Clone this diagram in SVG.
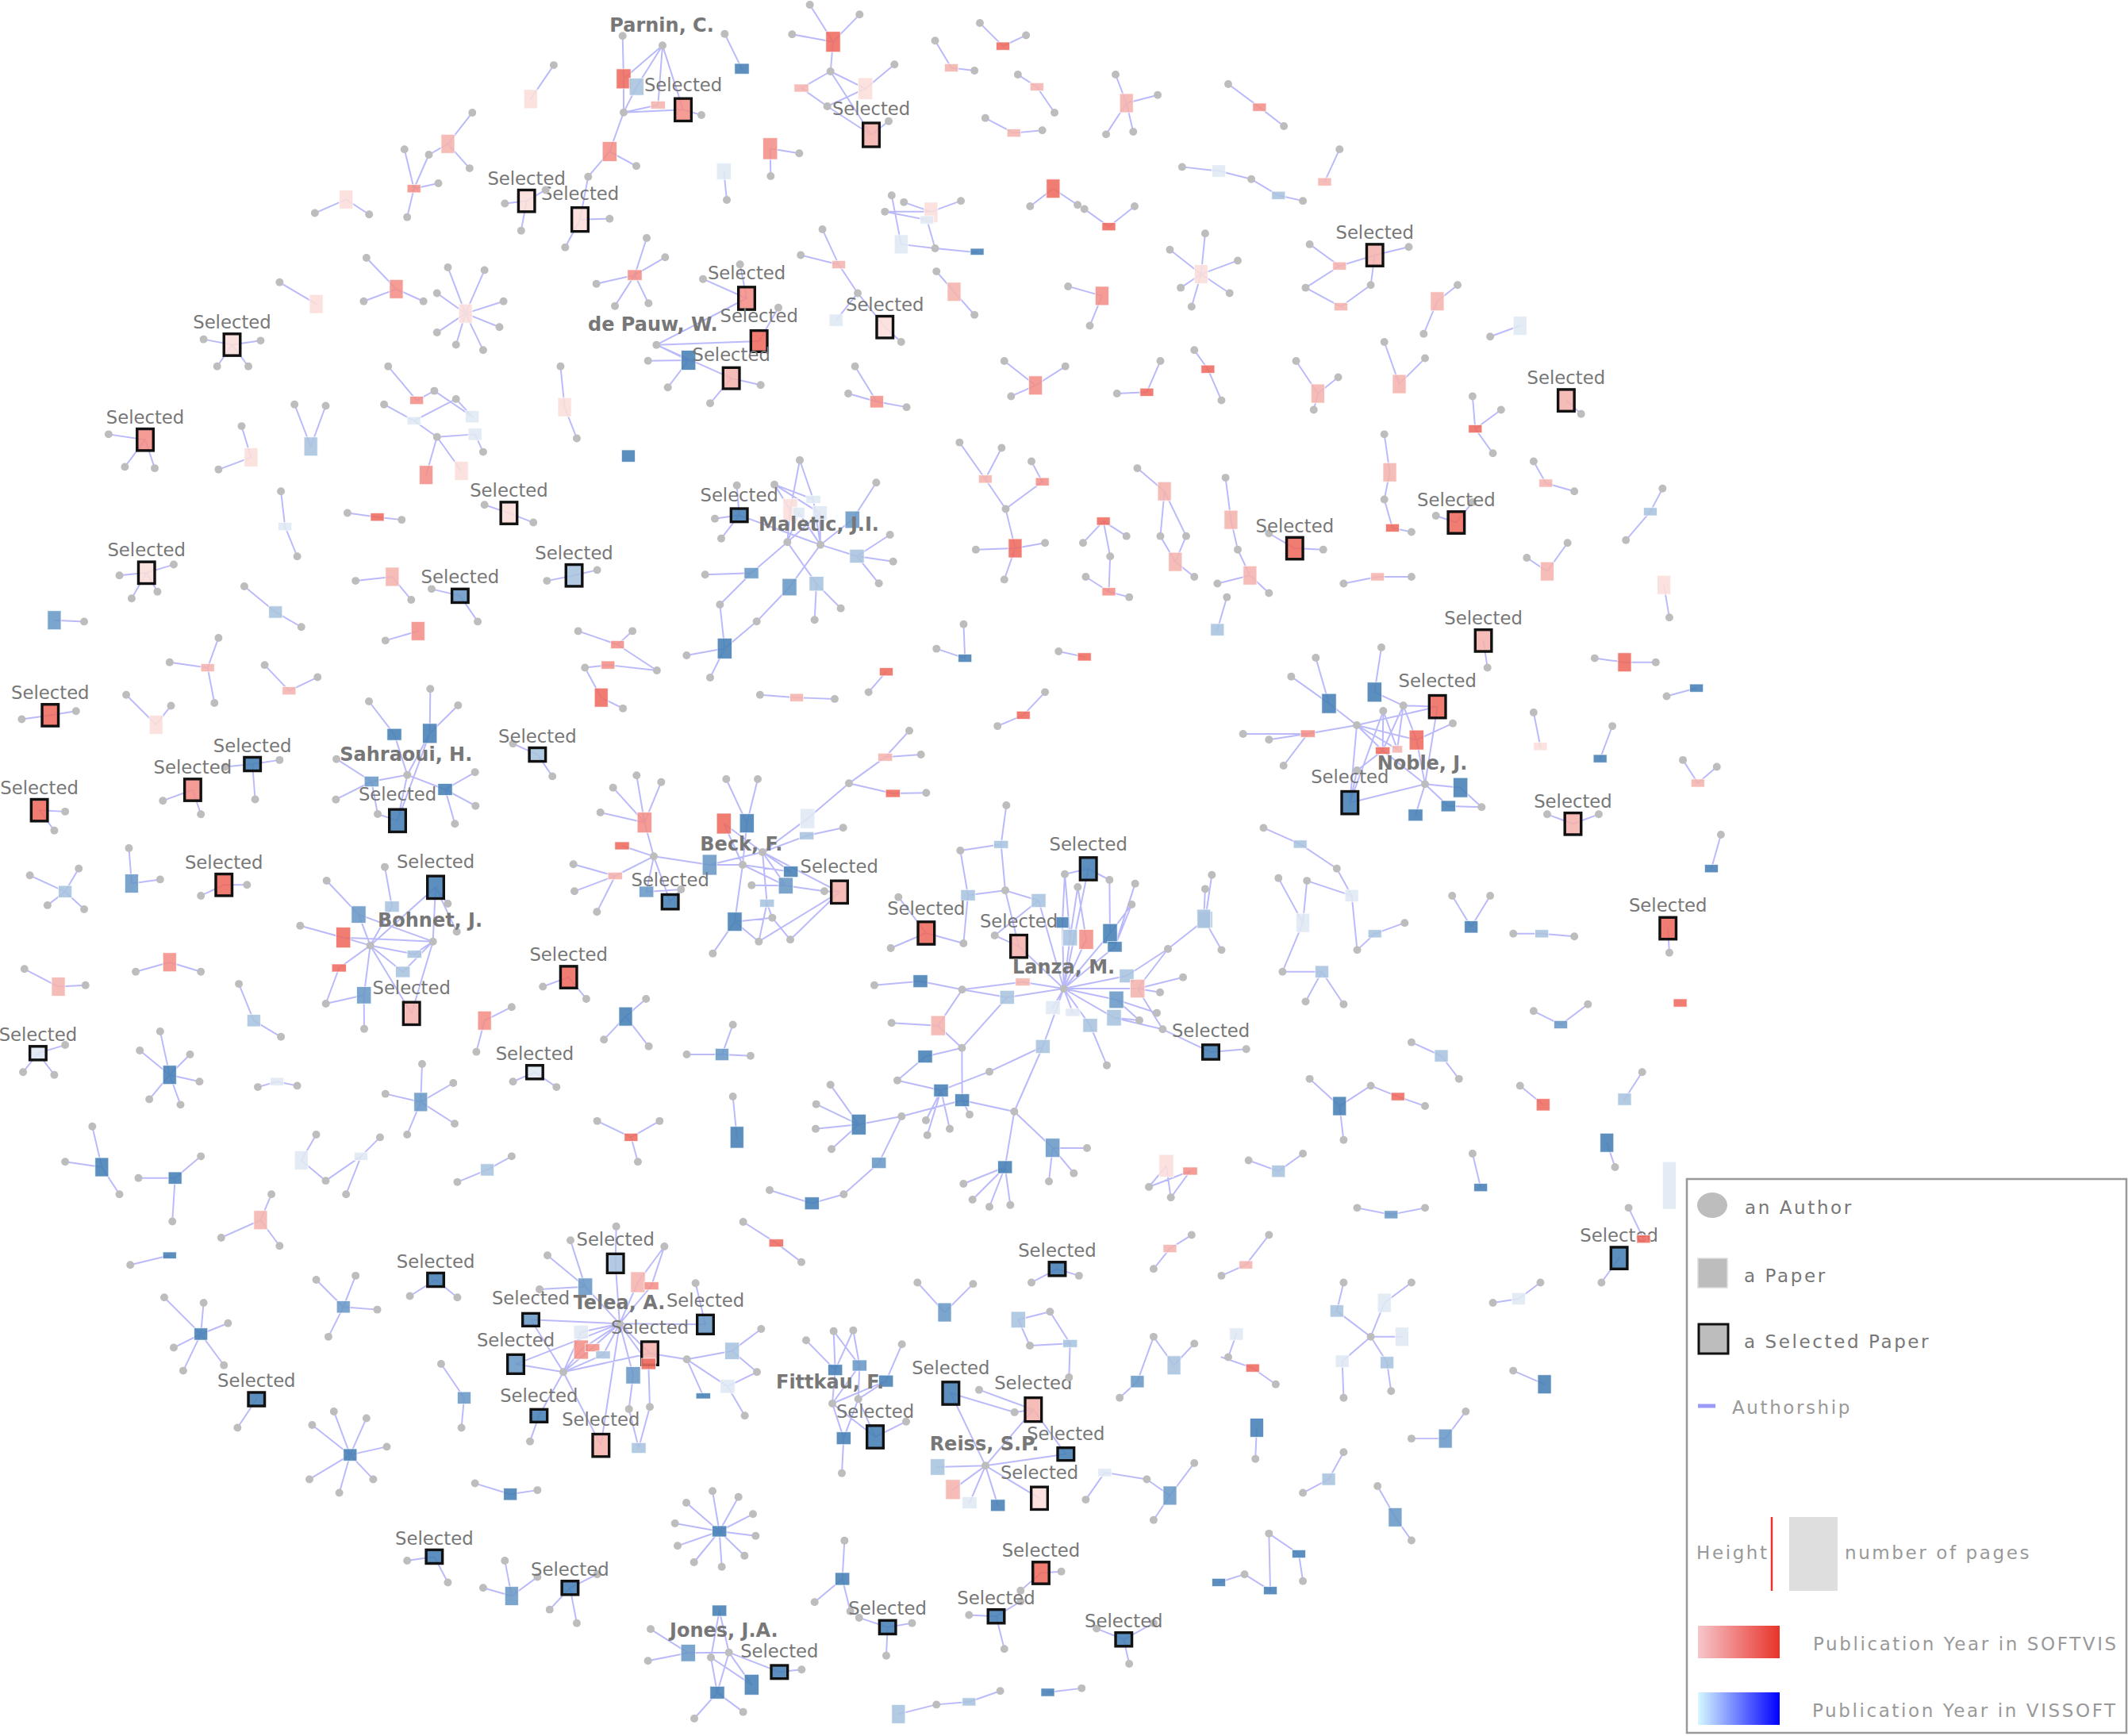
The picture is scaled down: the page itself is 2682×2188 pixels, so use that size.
<svg xmlns="http://www.w3.org/2000/svg" width="2682" height="2188" viewBox="0 0 2682 2188">
<style>
text{font-family:"DejaVu Sans",Verdana,sans-serif;fill:#777}
.e{fill:none;stroke:#7b7bf7;stroke-opacity:.52;stroke-linecap:round}
.a{fill:#bdbdbd}
.p{stroke:#fff;stroke-opacity:.7;fill-opacity:.88}
.r1{fill:#ee6a5e}.r2{fill:#f28e86}.r3{fill:#f5b3ad}.r4{fill:#fbdedb}
.b1{fill:#4680b5}.b2{fill:#6a99c7}.b3{fill:#a9c3df}.b4{fill:#dfe8f4}
.t{text-anchor:middle}
.Z .e{stroke-width:6}.Z .p{stroke-width:3}.Z .s{stroke:#111;stroke-opacity:1;stroke-width:10}.Z .t{font-size:68px}.Z .n{font-size:72px;font-weight:bold}.Z circle{r:15px}
.S .e{stroke-width:1.15}.S .p{stroke-width:.6}.S .s{stroke:#111;stroke-opacity:1;stroke-width:2}.S .t{font-size:13.3px}.S circle{r:2.9px}
.lg{font-size:23px;letter-spacing:2.6px}
</style>
<defs>
<linearGradient id="gr" x1="0" x2="1" y1="0" y2="0"><stop offset="0" stop-color="#f6c6cb"/><stop offset="1" stop-color="#e8342a"/></linearGradient>
<linearGradient id="gb" x1="0" x2="1" y1="0" y2="0"><stop offset="0" stop-color="#d6f8ff"/><stop offset="1" stop-color="#0000ff"/></linearGradient>
</defs>
<rect width="2682" height="2188" fill="#fff"/>
<g id="connectors">
<g class="Z" transform="translate(700 0) scale(.33333)">
<path class="e" d="M254 136L258 298M405 172L258 298M258 298L258 425M405 172L307 328M405 172L388 397M405 172L483 415M258 425L307 328M258 425L388 397M258 425L483 415M552 435L483 415M258 425L205 573M205 573L306 628M205 573L124 668M124 668L93 830M93 830L37 935M93 830L205 827"/>
<path class="e" d="M962 18L1050 158M1150 55L1050 158M895 130L1050 158M1050 158L1040 270M1040 270L930 333M930 333L1028 402M1040 270L1172 335M1172 335L1282 244M1028 402L1172 335M1040 270L1194 510M1028 402L1194 510M1194 510L1260 458"/>
<path class="e" d="M640 128L705 260M922 580L812 562M814 666L812 562M648 756L637 648M345 900L300 1040M415 973L300 1040M155 1073L300 1040M225 1157L300 1040M352 1147L300 1040"/>
</g>
<g class="Z" transform="translate(780 300) scale(.33333)">
<path class="e" d="M142 404L483 228M142 404L530 390M142 404L263 462M110 464L263 462M185 565L263 462M142 404L425 530M345 625L425 530M536 556L425 530M318 155L483 228M458 100L483 228M603 263L530 390"/>
</g>
<g class="Z" transform="translate(850 570) scale(.33333)">
<path class="e" d="M236 125L245 238M153 251L245 238M177 326L245 238M245 238L552 350M378 122L438 218M378 122L525 178M474 30L438 218M474 30L525 178M427 340L438 218M427 340L470 228M427 340L550 230M552 350L525 178M552 350L550 230M552 350L470 228M378 122L550 230M552 350L673 255M763 115L673 255M552 350L690 393M815 312L690 393M827 413L690 393M773 496L690 393M427 340L291 457M116 463L291 457M172 576L291 457M172 576L190 742M46 768L190 742M135 852L190 742M311 640L190 742M311 640L435 510M552 350L435 510M427 340L537 497M530 634L537 497M629 590L537 497"/>
</g>
<g class="Z" transform="translate(1560 790) scale(.33333)">
<path class="e" d="M295 117L345 290M202 188L345 290M345 290L450 372M543 78L517 247M517 247L626 298M450 372L265 404M265 404L20 405M265 404L118 427M265 404L173 525M450 372L755 302M450 372L676 428M450 372L548 468M450 372L603 463M450 372L424 665M626 298L755 302M626 298L548 468M626 298L603 463M626 298L676 428M550 318L548 468M550 318L603 463M550 318L424 665M813 365L676 428M708 595L755 302M708 595L676 428M708 595L424 665M708 595L548 468M708 595L842 608M708 595L796 678M708 595L672 712M922 682L842 608M922 682L796 678M451 543L424 665M451 543L548 468"/>
</g>
<g class="Z" transform="translate(720 920) scale(.33333)">
<path class="e" d="M247 172L277 350M340 197L277 350M158 218L277 350M110 312L277 350M277 350L312 478M312 478L192 438M312 478L166 552M166 552L8 508M166 552L12 610M166 552L97 688M312 478L284 612M312 478L374 650M374 650L415 603M284 612L415 603M312 478L523 510M586 186L664 353M705 186L664 353M664 353L648 510M577 354L723 462M577 354L648 510M648 510L523 510M723 462L523 510M723 462L893 335M893 335L1050 202M1050 202L1187 103M1187 103L1278 3M1187 103L1322 93M1050 202L1216 240M1216 240L1342 238M723 462L890 400M890 400L1028 370M723 462L830 536M648 510L830 536M723 462L811 589M648 510L811 589M811 589L957 610M682 587L811 589M723 462L740 655M740 655L709 800M723 462L1014 613M957 610L1014 613M709 800L1014 613M828 793L1014 613M648 510L618 725M618 725L760 710M618 725L535 845M760 710L740 655M828 793L760 710M618 725L709 800"/>
</g>
<g class="Z" transform="translate(370 860) scale(.33333)">
<path class="e" d="M285 72L381 197M381 197L430 350M517 25L515 193M622 87L515 193M515 193L430 350M515 193L393 523M162 290L295 375M430 350L295 375M295 375L160 443M295 375L318 498M430 350L573 405M686 340L573 405M688 467L573 405M610 535L573 405M430 350L393 523M318 498L393 523"/>
<path class="e" d="M345 698L372 848M372 848L290 995M125 750L246 878M246 878L290 995M246 878L527 980M25 920L188 965M188 965L290 995M188 965L527 980M290 995L537 775M527 980L537 775M537 775L583 837M537 775L617 943M290 995L457 1028M527 980L457 1028M290 995L172 1080M172 1080L122 1215M290 995L413 1095M527 980L413 1095M290 995L266 1183M266 1183L122 1215M266 1183L267 1310M290 995L446 1252M527 980L446 1252"/>
</g>
<g class="Z" transform="translate(990 1640) scale(.33333)">
<path class="e" d="M78 148L188 260M182 113L188 260M256 110L188 260M182 113L280 243M256 110L280 243M188 260L177 387M280 243L275 370M280 243L177 387M440 163L380 302M380 302L177 387M275 370L380 302M177 387L220 518M275 370L220 518M220 518L213 650M177 387L339 513M275 370L339 513M339 513L456 455"/>
<path class="e" d="M625 348L866 420M625 348L756 622M732 335L937 410M866 420L937 410M937 410L756 622M756 622L1060 578M1060 578L937 410M756 622L960 745M756 622L575 627M756 622L633 712M756 622L696 762M756 622L803 772"/>
<path class="e" d="M880 70L1000 40M880 70L924 168M924 168L1076 160M1000 40L1076 160M1076 160L1072 288"/>
</g>
<g class="Z" transform="translate(820 1860) scale(.33333)">
<path class="e" d="M234 58L260 210M332 80L260 210M135 102L260 210M387 145L260 210M92 180L260 210M397 227L260 210M102 265L260 210M355 302L260 210M164 327L260 210M269 344L260 210"/>
<path class="e" d="M0 580L142 670M-10 700L142 670M142 670L296 668M260 510L296 668M260 510L228 687M228 687L252 820M296 668L252 820M228 687L382 790M296 668L382 790M296 668L487 742M487 742L571 733M252 820L165 918M252 820L350 893M733 245L725 390M620 478L725 390M755 512L725 390"/>
</g>
<g class="Z" transform="translate(600 1500) scale(.33333)">
<path class="e" d="M530 137L527 277M527 277L543 505M357 190L413 365M270 247L413 365M240 375L413 365M413 365L543 505M712 213L663 362M712 213L612 348M612 348L543 505M663 362L543 505M207 490L543 505M207 490L330 688M543 505L867 508M830 352L867 508M543 505L397 537M543 505L397 603M543 505L440 596M543 505L480 623M543 505L657 617M543 505L150 658M330 688L150 658M330 688L397 537M330 688L397 603M330 688L480 623M330 688L657 617M330 688L238 853M238 853L204 950M330 688L472 965M543 505L472 965M543 505L594 700M594 700L578 828M578 828L615 975M657 820L615 975M657 820L652 657M543 505L652 657M657 617L797 640M797 640L968 608M968 608L1078 525M968 608L1062 688M797 640L951 742M951 742L1062 688M951 742L1016 853M797 640L859 778M330 688L440 596M1010 120L1135 200M1230 272L1135 200"/>
</g>
<g class="Z" transform="translate(1150 1000) scale(.33333)">
<path class="e" d="M355 45L335 193M335 193L181 216M335 193L351 367M181 216L210 385M210 385L351 367M210 385L193 567M351 367L477 405M477 405L311 537M477 405L572 738M351 367L402 578M311 537L402 578M52 528L193 567M52 528L-53 392M52 528L-82 585M572 738L402 578M576 305L665 285M745 327L665 285M572 738L665 285M576 305L567 488M625 354L596 545M576 305L596 545M625 354L657 552M572 738L567 488M572 738L596 545M572 738L657 552M745 327L747 530M572 738L747 530M829 420L747 530M842 341L765 580M829 420L765 580M572 738L765 580M572 738L417 713M417 713L188 742M188 742L30 710M30 710L-144 725M572 738L358 771M358 771L188 742M358 771L187 962M188 742L97 878M97 878L-79 868M97 878L187 962M187 962L48 995M48 995L-57 1085M572 738L531 810M572 738L606 828M572 738L672 877M672 877L735 1028M572 738L810 690M810 690L966 588M966 588L1107 477M1107 477L1132 308M572 738L851 738M851 738L1023 695M851 738L936 752M851 738L966 588M851 738L946 892M572 738L771 780M771 780L924 830M771 780L858 858M572 738L762 848M762 848L858 858M762 848L946 892M946 892L1128 978M1128 978L1262 967M572 738L493 957M493 957L291 1052M291 1052L108 1123M-57 1085L108 1123M108 1123L51 1236M108 1123L56 1292M108 1123L141 1268M187 962L188 1160M188 1160L-41 1221M188 1160L216 1214M188 1160L385 1203M385 1203L493 957M385 1203L350 1413M385 1203L530 1340M530 1340L660 1341M530 1340L610 1436M530 1340L516 1467M350 1413L193 1476M350 1413L227 1536M350 1413L291 1563M350 1413L370 1556M-41 1221L-203 1252M-203 1252L-310 1102M-203 1252L-364 1175M-203 1252L-366 1268M-203 1252L-306 1345M-41 1221L-127 1397M-127 1397L-260 1516M-260 1516L-380 1550M-540 1500L-380 1550M960 1408L894 1488M960 1408L977 1528M1050 1428L894 1488M1050 1428L977 1528"/>
</g>
<g class="S" transform="scale(1.7105)">
<path class="e" d="M408 48L391 73M348 83L330 106M346 124L330 106M316 114L330 106M316 114L305 139M298 110L305 139M300 160L305 139M323 135L305 139M232 157L255 147M272 158L255 147M206 208L233 224M270 190L292 213M268 222L292 213M312 222L292 213M322 216L343 231M330 197L343 231M357 199L343 231M371 222L343 231M368 241L343 231M356 258L343 231M336 254L343 231M322 245L343 231M689 30L701 50M718 52L701 50M722 17L739 34M756 26L739 34M750 55L764 64M777 83L764 64M726 87L747 98M768 96L747 98M822 55L830 76M853 70L830 76M815 99L830 76M835 97L830 76M905 62L928 79M946 93L928 79M987 110L976 134M871 123L898 126M922 132L898 126M922 132L942 144M960 148L942 144M759 152L776 139M794 151L776 139M799 154L817 167M836 152L817 167M862 184L885 202M870 212L885 202M888 172L885 202M912 192L885 202M906 216L885 202M878 226L885 202M787 211L812 218M803 240L812 218M384 170L388 148M402 140L388 148M372 150L388 148"/>
<path class="e" d="M657 144L664 180M666 149L686 156M652 156L686 156M652 156L683 162M686 156L708 148M683 162L689 183M664 180L689 183M689 183L720 186M606 169L618 195M590 188L618 195M618 195L632 216M632 216L652 241M664 252L652 241M690 200L703 215M718 232L703 215M632 216L616 236M625 290L646 296M630 270L646 296M668 300L646 296"/>
<path class="e" d="M150 250L171 254M160 270L171 254M183 270L171 254M192 251L171 254M80 320L107 324M92 344L107 324M114 345L107 324M161 346L185 337M178 314L185 337M217 298L229 329M240 299L229 329M286 270L307 295M307 295L320 288M283 298L305 310M305 310L322 322M320 288L348 307M336 294L348 307M322 322L350 320M322 322L314 350M322 322L340 347M356 333L350 320M336 294L305 310M413 270L416 300M425 323L416 300M357 372L375 378M393 385L375 378M256 378L278 381M296 383L278 381M207 362L210 388M219 410L210 388M88 424L108 422M97 441L108 422M128 416L108 422M116 436L108 422M403 428L423 424M440 420L423 424M262 428L289 425M303 442L289 425M318 434L339 439M352 458L339 439M180 432L203 451M222 462L203 451M284 472L308 465M62 458L40 457M125 488L153 492M161 470L153 492M158 518L153 492M195 490L213 509M234 499L213 509M426 465L455 475M466 465L455 475M455 475L484 494M431 492L448 490M448 490L484 494M431 492L443 514M459 522L443 514"/>
<path class="e" d="M16 530L37 527M56 524L37 527M93 512L115 534M126 520L115 534M166 565L186 563M188 589L186 563M206 560L186 563M120 590L142 582M148 600L142 582M48 598L29 597M40 612L29 597M378 548L396 556M407 572L396 556M22 645L48 657M35 667L48 657M58 640L48 657M62 670L48 657M95 625L97 651M118 648L97 651M148 660L165 652M182 652L165 652M18 714L43 727M63 726L43 727M100 716L125 709M148 716L125 709M176 725L187 752M207 764L187 752M17 790L28 776M40 792L28 776M48 770L28 776M103 774L125 792M118 760L125 792M140 777L125 792M147 797L125 792M133 814L125 792M110 810L125 792M190 801L204 797M219 800L204 797M284 806L310 812M311 784L310 812M334 798L310 812M335 828L310 812M300 836L310 812M378 797L394 790M410 801L394 790M377 742L357 752M351 775L357 752M400 727L419 720M432 736L419 720M445 766L461 749M476 736L461 749M478 771L461 749M506 777L532 777M540 755L532 777M553 778L532 777M540 808L543 838M440 826L465 838M486 826L465 838M470 856L465 838"/>
<path class="e" d="M48 856L75 860M68 830L75 860M88 880L75 860M102 868L129 868M148 852L129 868M127 900L129 868M233 836L222 855M240 870L222 855M240 870L266 852M255 880L266 852M280 838L266 852M163 912L192 899M200 880L192 899M206 918L192 899M96 932L125 925M337 871L359 862M377 852L359 862M302 955L321 943M337 956L321 943M233 943L253 963M262 940L253 963M278 965L253 963M242 985L253 963M121 956L148 983M150 960L148 983M168 975L148 983M165 1006L148 983M135 1010L148 983M128 993L148 983M175 1052L189 1031M325 1005L342 1030M340 1052L342 1030M230 1050L258 1072M246 1040L258 1072M270 1045L258 1072M285 1066L258 1072M275 1090L258 1072M250 1100L258 1072M228 1090L258 1072M350 1093L376 1101M396 1098L376 1101M356 1170L377 1176M372 1150L377 1176M396 1162L377 1176M300 1150L320 1147M330 1166L320 1147M405 1186L420 1170M440 1160L420 1170M425 1196L420 1170"/>
<path class="e" d="M1098 248L1120 240M1165 305L1154 295M1085 292L1087 316M1106 302L1087 316M1100 334L1087 316M1020 252L1031 283M1050 264L1031 283M955 266L971 290M986 278L971 290M968 302L971 290M1074 210L1059 222M1049 246L1059 222M1038 182L1013 188M1013 188L987 196M965 180L987 196M987 196L962 212M962 212L988 226M1010 210L988 226M1010 210L1013 188M880 258L890 272M900 295L890 272M823 290L845 289M855 266L845 289M740 266L763 284M785 270L763 284M745 292L763 284M707 326L726 353M738 330L726 353M726 353L741 375M760 340L768 355M768 355L741 375M741 375L748 404M719 405L748 404M740 427L748 404M770 400L748 404M798 400L813 384M830 395L813 384M818 410L813 384M818 410L817 436M800 425L817 436M832 440L817 436M838 345L858 362M858 362L855 395M858 362L874 395M855 395L866 414M880 425L866 414M874 395L866 414M903 352L907 383M907 383L912 405M912 405L921 424M897 430L921 424M935 437L921 424M935 393L954 404M975 405L954 404M1020 320L1024 348M1024 348L1020 368M1020 368L1026 389M1040 392L1026 389M1058 380L1073 385M1085 370L1073 385M1130 340L1139 356M1160 362L1139 356M1198 398L1216 377M1225 360L1216 377M1125 411L1140 421M1155 400L1140 421M990 430L1015 425M1040 425L1015 425M904 440L897 464M1230 455L1226 431M1096 492L1093 472M1175 485L1197 488M1220 488L1197 488M1228 513L1250 507M1130 525L1135 550M1188 535L1179 559M1240 560L1251 577M1265 565L1251 577M1140 600L1159 607M1178 600L1159 607M1268 615L1261 640M1070 660L1084 683M1098 660L1084 683M1115 688L1136 688M1160 690L1136 688M1230 702L1229 684"/>
<path class="e" d="M1040 768L1062 778M1075 795L1062 778M1130 745L1150 755M1170 740L1150 755M1210 790L1197 810M1120 800L1137 814M1190 860L1184 842M1085 850L1091 875M1000 890L1025 895M1050 890L1025 895M965 795L987 815M1010 800L987 815M1010 800L1030 808M1050 815L1030 808M990 840L987 815M920 855L942 863M960 850L942 863M900 940L918 932M935 910L918 932M850 935L862 920M878 910L862 920M760 945L779 935M795 940L779 935M990 945L985 966M985 966L1010 985M1040 945L1020 960M1020 960L1010 985M1010 985L1033 985M1010 985L1022 1004M1022 1004L1025 1025M1010 985L989 1003M989 1003L990 1030M905 1000L911 983M900 1000L923 1008M940 1020L923 1008M1100 960L1119 957M1135 945L1119 957M1180 945L1193 927M1200 890L1211 913M1115 1010L1138 1020M1040 1060L1065 1060M1080 1040L1065 1060M1015 1095L1028 1118M1040 1135L1028 1118M960 1100L979 1090M990 1070L979 1090M925 1075L926 1052M935 1130L957 1145M960 1165L957 1145M917 1160L936 1172M917 1160L898 1166M935 1130L936 1172M825 1030L838 1018M850 985L838 1018M850 985L865 1006M880 990L865 1006M845 1090L862 1102M880 1078L862 1102M850 1120L862 1102M845 1090L814 1085M800 1105L814 1085M808 1200L828 1208M832 1226L828 1208M850 1196L828 1208M752 1172L767 1159M782 1158L767 1159M714 1190L734 1191M740 1215L734 1191M752 1180L734 1191M797 1244L772 1247M633 1192L654 1199M653 1220L654 1199M672 1196L654 1199M690 1256L662 1263M690 1256L714 1254M737 1246L714 1254M676 945L696 967M717 946L696 967M640 510L653 495M690 478L711 485M710 460L711 485M735 535L754 527M770 510L754 527M780 480L799 484M560 512L587 514M615 515L587 514"/>
<path class="e" d="M931 610L958 622M958 622L985 640M942 647L960 680M963 649L996 660M985 640L996 660M996 660L1000 700M1000 700L1013 688M1035 680L1013 688M960 680L945 716M945 716L974 716M974 716L962 738M974 716L990 740M963 649L960 680M888 655L887 677M887 677L900 700"/>
</g>
</g>
<g id="nodes">
<g class="Z" transform="translate(700 0) scale(.33333)">
<g id="parnin">
<rect class="p r1" x="230.5" y="260.5" width="55" height="75"/><rect class="p b3" x="279.5" y="295.5" width="55" height="65"/><rect class="p r3" x="360.5" y="382" width="55" height="30"/><rect class="p r2 s" x="452" y="372.5" width="62" height="85"/><rect class="p r2" x="177.5" y="535.5" width="55" height="75"/><rect class="p r4 s" x="62" y="785" width="62" height="90"/>
<circle class="a" cx="405" cy="172"/><circle class="a" cx="254" cy="136"/><circle class="a" cx="258" cy="425"/><circle class="a" cx="552" cy="435"/><circle class="a" cx="306" cy="628"/><circle class="a" cx="124" cy="668"/><circle class="a" cx="37" cy="935"/><circle class="a" cx="205" cy="827"/>
<text class="n" x="205" y="120">Parnin, C.</text><text class="t" x="483" y="345">Selected</text><text class="t" x="93" y="757">Selected</text>
</g>
<g id="top1">
<rect class="p r1" x="1022.5" y="119" width="55" height="78"/><rect class="p r3" x="902.5" y="318" width="55" height="30"/><rect class="p r4" x="1144.5" y="294" width="55" height="82"/><rect class="p r3 s" x="1163" y="465" width="62" height="90"/>
<circle class="a" cx="962" cy="18"/><circle class="a" cx="1150" cy="55"/><circle class="a" cx="895" cy="130"/><circle class="a" cx="1040" cy="270"/><circle class="a" cx="1282" cy="244"/><circle class="a" cx="1028" cy="402"/><circle class="a" cx="1260" cy="458"/>
<text class="t" x="1194" y="435">Selected</text>
</g>
<g id="top2">
<rect class="p b1" x="677.5" y="240" width="55" height="40"/><circle class="a" cx="640" cy="128"/>
<rect class="p r2" x="784.5" y="521" width="55" height="82"/><circle class="a" cx="922" cy="580"/><circle class="a" cx="814" cy="666"/>
<rect class="p b4" x="609.5" y="617" width="55" height="62"/><circle class="a" cx="648" cy="756"/>
<rect class="p r2" x="272.5" y="1020" width="55" height="40"/><circle class="a" cx="345" cy="900"/><circle class="a" cx="415" cy="973"/><circle class="a" cx="155" cy="1073"/><circle class="a" cx="225" cy="1157"/><circle class="a" cx="352" cy="1147"/>
</g>
</g>
<g class="Z" transform="translate(780 300) scale(.33333)">
<g id="depauw">
<rect class="p b1" x="235.5" y="424.5" width="55" height="75"/><rect class="p r2 s" x="452" y="185.5" width="62" height="85"/><rect class="p r1 s" x="499" y="350" width="62" height="80"/><rect class="p r3 s" x="394" y="490" width="62" height="80"/>
<circle class="a" cx="142" cy="404"/><circle class="a" cx="110" cy="464"/><circle class="a" cx="185" cy="565"/><circle class="a" cx="345" cy="625"/><circle class="a" cx="536" cy="556"/><circle class="a" cx="318" cy="155"/><circle class="a" cx="458" cy="100"/><circle class="a" cx="603" cy="263"/>
<text class="n" x="-117" y="352">de Pauw, W.</text><text class="t" x="483" y="155">Selected</text><text class="t" x="530" y="318">Selected</text><text class="t" x="425" y="465">Selected</text>
</g>
</g>
<g class="Z" transform="translate(850 570) scale(.33333)">
<g id="maletic">
<rect class="p b1 s" x="214" y="213" width="62" height="50"/><rect class="p r4" x="410.5" y="175.5" width="55" height="85"/><rect class="p b4" x="497.5" y="163" width="55" height="30"/><rect class="p b4" x="447.5" y="208" width="45" height="40"/><rect class="p b4" x="522.5" y="202.5" width="55" height="55"/><rect class="p b2" x="645.5" y="222.5" width="55" height="65"/><rect class="p b3" x="662.5" y="367" width="55" height="52"/><rect class="p b2" x="263.5" y="436" width="55" height="42"/><rect class="p b2" x="407.5" y="477.5" width="55" height="65"/><rect class="p b3" x="509.5" y="469.5" width="55" height="55"/><rect class="p b1" x="162.5" y="703" width="55" height="78"/>
<circle class="a" cx="474" cy="30"/><circle class="a" cx="236" cy="125"/><circle class="a" cx="378" cy="122"/><circle class="a" cx="763" cy="115"/><circle class="a" cx="153" cy="251"/><circle class="a" cx="177" cy="326"/><circle class="a" cx="427" cy="340"/><circle class="a" cx="552" cy="350"/><circle class="a" cx="815" cy="312"/><circle class="a" cx="827" cy="413"/><circle class="a" cx="773" cy="496"/><circle class="a" cx="116" cy="463"/><circle class="a" cx="172" cy="576"/><circle class="a" cx="311" cy="640"/><circle class="a" cx="530" cy="634"/><circle class="a" cx="629" cy="590"/><circle class="a" cx="46" cy="768"/><circle class="a" cx="135" cy="852"/>
<text class="n" x="318" y="298">Maletic, J.I.</text><text class="t" x="245" y="185">Selected</text>
</g>
</g>
<g class="Z" transform="translate(1560 790) scale(.33333)">
<g id="noble">
<rect class="p b1" x="317.5" y="252.5" width="55" height="75"/><rect class="p b1" x="489.5" y="209.5" width="55" height="75"/><rect class="p r2" x="237.5" y="390" width="55" height="28"/><rect class="p r1" x="648.5" y="390.5" width="55" height="75"/><rect class="p r1" x="520.5" y="454" width="55" height="28"/><rect class="p r3" x="583" y="449" width="40" height="28"/><rect class="p r1 s" x="724" y="259.5" width="62" height="85"/><rect class="p b1 s" x="393" y="622.5" width="62" height="85"/><rect class="p b1" x="814.5" y="570.5" width="55" height="75"/><rect class="p b1" x="768.5" y="657" width="55" height="42"/><rect class="p b1" x="644.5" y="689.5" width="55" height="45"/>
<circle class="a" cx="295" cy="117"/><circle class="a" cx="543" cy="78"/><circle class="a" cx="202" cy="188"/><circle class="a" cx="626" cy="298"/><circle class="a" cx="550" cy="318"/><circle class="a" cx="450" cy="372"/><circle class="a" cx="813" cy="365"/><circle class="a" cx="20" cy="405"/><circle class="a" cx="118" cy="427"/><circle class="a" cx="173" cy="525"/><circle class="a" cx="451" cy="543"/><circle class="a" cx="708" cy="595"/><circle class="a" cx="922" cy="682"/>
<text class="n" x="527" y="540">Noble, J.</text><text class="t" x="755" y="228">Selected</text><text class="t" x="424" y="590">Selected</text>
</g>
</g>
<g class="Z" transform="translate(720 920) scale(.33333)">
<g id="beck">
<rect class="p r2" x="249.5" y="311" width="55" height="78"/><rect class="p r1" x="164.5" y="423" width="55" height="30"/><rect class="p r3" x="138.5" y="538" width="55" height="28"/><rect class="p b2" x="256.5" y="591" width="55" height="42"/><rect class="p b1 s" x="343" y="622.5" width="62" height="55"/><rect class="p b2" x="495.5" y="471" width="55" height="78"/><rect class="p r1" x="549.5" y="315" width="55" height="78"/><rect class="p b1" x="636.5" y="317" width="55" height="72"/><rect class="p b4" x="865.5" y="297.5" width="55" height="75"/><rect class="p b3" x="862.5" y="385" width="55" height="30"/><rect class="p r3" x="1159.5" y="88" width="55" height="30"/><rect class="p r1" x="1188.5" y="225" width="55" height="30"/><rect class="p b1" x="802.5" y="515" width="55" height="42"/><rect class="p b2" x="783.5" y="558" width="55" height="62"/><rect class="p b3" x="712.5" y="640" width="55" height="30"/><rect class="p b1" x="590.5" y="689" width="55" height="72"/><rect class="p r3 s" x="983" y="570.5" width="62" height="85"/>
<circle class="a" cx="247" cy="172"/><circle class="a" cx="340" cy="197"/><circle class="a" cx="158" cy="218"/><circle class="a" cx="110" cy="312"/><circle class="a" cx="312" cy="478"/><circle class="a" cx="8" cy="508"/><circle class="a" cx="12" cy="610"/><circle class="a" cx="97" cy="688"/><circle class="a" cx="415" cy="603"/><circle class="a" cx="586" cy="186"/><circle class="a" cx="705" cy="186"/><circle class="a" cx="723" cy="462"/><circle class="a" cx="648" cy="510"/><circle class="a" cx="682" cy="587"/><circle class="a" cx="1028" cy="370"/><circle class="a" cx="1050" cy="202"/><circle class="a" cx="1278" cy="3"/><circle class="a" cx="1322" cy="93"/><circle class="a" cx="1342" cy="238"/><circle class="a" cx="957" cy="610"/><circle class="a" cx="760" cy="710"/><circle class="a" cx="709" cy="800"/><circle class="a" cx="828" cy="793"/><circle class="a" cx="535" cy="845"/>
<text class="n" x="487" y="455">Beck, F.</text><text class="t" x="374" y="590">Selected</text><text class="t" x="1013" y="540">Selected</text>
</g>
</g>
<g class="Z" transform="translate(370 860) scale(.33333)">
<g id="sahraoui">
<rect class="p b1" x="353.5" y="174.5" width="55" height="45"/><rect class="p b1" x="487.5" y="155.5" width="55" height="75"/><rect class="p b2" x="267.5" y="355" width="55" height="40"/><rect class="p b1" x="545.5" y="382.5" width="55" height="45"/><rect class="p b1 s" x="362" y="480.5" width="62" height="85"/>
<circle class="a" cx="517" cy="25"/><circle class="a" cx="285" cy="72"/><circle class="a" cx="622" cy="87"/><circle class="a" cx="162" cy="290"/><circle class="a" cx="430" cy="350"/><circle class="a" cx="686" cy="340"/><circle class="a" cx="160" cy="443"/><circle class="a" cx="688" cy="467"/><circle class="a" cx="318" cy="498"/><circle class="a" cx="610" cy="535"/>
<text class="n" x="175" y="297">Sahraoui, H.</text><text class="t" x="393" y="448">Selected</text>
</g>
<g id="bohnet">
<rect class="p b1 s" x="506" y="732.5" width="62" height="85"/><rect class="p b2" x="218.5" y="845.5" width="55" height="65"/><rect class="p b3" x="344.5" y="827" width="55" height="42"/><rect class="p r1" x="160.5" y="926" width="55" height="78"/><rect class="p b3" x="429.5" y="1013" width="55" height="30"/><rect class="p r1" x="144.5" y="1065" width="55" height="30"/><rect class="p b3" x="385.5" y="1074" width="55" height="42"/><rect class="p b2" x="238.5" y="1150.5" width="55" height="65"/><rect class="p r3 s" x="415" y="1209.5" width="62" height="85"/>
<circle class="a" cx="345" cy="698"/><circle class="a" cx="125" cy="750"/><circle class="a" cx="583" cy="837"/><circle class="a" cx="25" cy="920"/><circle class="a" cx="617" cy="943"/><circle class="a" cx="290" cy="995"/><circle class="a" cx="527" cy="980"/><circle class="a" cx="122" cy="1215"/><circle class="a" cx="267" cy="1310"/>
<text class="n" x="318" y="925">Bohnet, J.</text><text class="t" x="537" y="703">Selected</text><text class="t" x="446" y="1180">Selected</text>
</g>
</g>
<g class="Z" transform="translate(990 1640) scale(.33333)">
<g id="fittkau">
<rect class="p b1" x="160.5" y="239" width="55" height="42"/><rect class="p b2" x="252.5" y="222" width="55" height="42"/><rect class="p b1" x="352.5" y="279.5" width="55" height="45"/><rect class="p b1" x="192.5" y="494" width="55" height="48"/><rect class="p b1 s" x="308" y="470.5" width="62" height="85"/>
<circle class="a" cx="78" cy="148"/><circle class="a" cx="182" cy="113"/><circle class="a" cx="256" cy="110"/><circle class="a" cx="440" cy="163"/><circle class="a" cx="177" cy="387"/><circle class="a" cx="275" cy="370"/><circle class="a" cx="456" cy="455"/><circle class="a" cx="213" cy="650"/>
<text class="n" x="-36" y="330">Fittkau, F.</text><text class="t" x="339" y="440">Selected</text>
</g>
<g id="reiss">
<rect class="p b1 s" x="594" y="305.5" width="62" height="85"/><rect class="p r3 s" x="906" y="365" width="62" height="90"/><rect class="p b1 s" x="1029" y="554" width="62" height="48"/><rect class="p r4 s" x="929" y="702.5" width="62" height="85"/><rect class="p b3" x="547.5" y="596" width="55" height="62"/><rect class="p r3" x="605.5" y="674.5" width="55" height="75"/><rect class="p b4" x="668.5" y="739.5" width="55" height="45"/><rect class="p b1" x="775.5" y="749.5" width="55" height="45"/>
<circle class="a" cx="732" cy="335"/><circle class="a" cx="866" cy="420"/><circle class="a" cx="756" cy="622"/>
<text class="n" x="545" y="565">Reiss, S.P.</text><text class="t" x="625" y="275">Selected</text><text class="t" x="937" y="333">Selected</text><text class="t" x="1060" y="525">Selected</text><text class="t" x="960" y="672">Selected</text>
</g>
<g id="z9c">
<rect class="p b3" x="852.5" y="39" width="55" height="62"/><rect class="p b3" x="1048.5" y="145" width="55" height="30"/>
<circle class="a" cx="1000" cy="40"/><circle class="a" cx="924" cy="168"/><circle class="a" cx="1072" cy="288"/>
</g>
</g>
<g class="Z" transform="translate(820 1860) scale(.33333)">
<g id="star1">
<rect class="p b1" x="232.5" y="189" width="55" height="42"/>
<circle class="a" cx="234" cy="58"/><circle class="a" cx="332" cy="80"/><circle class="a" cx="135" cy="102"/><circle class="a" cx="387" cy="145"/><circle class="a" cx="92" cy="180"/><circle class="a" cx="397" cy="227"/><circle class="a" cx="102" cy="265"/><circle class="a" cx="355" cy="302"/><circle class="a" cx="164" cy="327"/><circle class="a" cx="269" cy="344"/>
</g>
<g id="jones">
<rect class="p b1" x="232.5" y="489" width="55" height="42"/><rect class="p b2" x="114.5" y="637.5" width="55" height="65"/><rect class="p b1" x="354.5" y="751" width="55" height="78"/><rect class="p b1" x="224.5" y="796" width="55" height="48"/><rect class="p b1 s" x="456" y="717" width="62" height="50"/>
<circle class="a" cx="0" cy="580"/><circle class="a" cx="-10" cy="700"/><circle class="a" cx="296" cy="668"/><circle class="a" cx="228" cy="687"/><circle class="a" cx="571" cy="733"/><circle class="a" cx="165" cy="918"/><circle class="a" cx="350" cy="893"/>
<text class="n" x="72" y="610">Jones, J.A.</text><text class="t" x="487" y="688">Selected</text>
</g>
<g id="z11c">
<rect class="p b1" x="697.5" y="366" width="55" height="48"/>
<circle class="a" cx="733" cy="245"/><circle class="a" cx="620" cy="478"/><circle class="a" cx="755" cy="512"/>
</g>
</g>
<g class="Z" transform="translate(600 1500) scale(.33333)">
<g id="telea">
<rect class="p b3 s" x="496" y="241" width="62" height="72"/><rect class="p b2" x="385.5" y="332.5" width="55" height="65"/><rect class="p r3" x="584.5" y="309" width="55" height="78"/><rect class="p r2" x="635.5" y="347" width="55" height="30"/><rect class="p b2 s" x="176" y="466" width="62" height="48"/><rect class="p b2 s" x="836" y="472" width="62" height="72"/><rect class="p b4" x="369.5" y="511" width="55" height="52"/><rect class="p r2" x="369.5" y="567" width="55" height="72"/><rect class="p r2" x="412.5" y="581" width="55" height="30"/><rect class="p b3" x="452.5" y="608" width="55" height="30"/><rect class="p b2 s" x="119" y="622" width="62" height="72"/><rect class="p r3 s" x="626" y="573" width="62" height="88"/><rect class="p r1" x="624.5" y="636" width="55" height="42"/><rect class="p b2" x="566.5" y="667.5" width="55" height="65"/><rect class="p b1 s" x="207" y="829" width="62" height="48"/><rect class="p r3 s" x="441" y="922.5" width="62" height="85"/><rect class="p b3" x="587.5" y="955" width="55" height="40"/><rect class="p b3" x="940.5" y="575.5" width="55" height="65"/><rect class="p b4" x="923.5" y="716" width="55" height="52"/><rect class="p b1" x="831.5" y="767" width="55" height="22"/>
<circle class="a" cx="530" cy="137"/><circle class="a" cx="357" cy="190"/><circle class="a" cx="712" cy="213"/><circle class="a" cx="270" cy="247"/><circle class="a" cx="240" cy="375"/><circle class="a" cx="543" cy="505"/><circle class="a" cx="330" cy="688"/><circle class="a" cx="797" cy="640"/><circle class="a" cx="830" cy="352"/><circle class="a" cx="578" cy="828"/><circle class="a" cx="657" cy="820"/><circle class="a" cx="204" cy="950"/><circle class="a" cx="1078" cy="525"/><circle class="a" cx="1062" cy="688"/><circle class="a" cx="1016" cy="853"/>
<text class="n" x="368" y="450">Telea, A.</text><text class="t" x="527" y="210">Selected</text><text class="t" x="207" y="433">Selected</text><text class="t" x="867" y="440">Selected</text><text class="t" x="150" y="592">Selected</text><text class="t" x="657" y="543">Selected</text><text class="t" x="238" y="800">Selected</text><text class="t" x="472" y="892">Selected</text>
</g>
<g id="z4c">
<rect class="p r1" x="1107.5" y="185" width="55" height="30"/><circle class="a" cx="1010" cy="120"/><circle class="a" cx="1230" cy="272"/>
</g>
</g>
<g class="Z" transform="translate(1150 1000) scale(.33333)">
<g id="lanza">
<rect class="p b3" x="307.5" y="178" width="55" height="30"/><rect class="p b3" x="182.5" y="364" width="55" height="42"/><rect class="p b3" x="449.5" y="379" width="55" height="52"/><rect class="p b1 s" x="634" y="242.5" width="62" height="85"/><rect class="p r1 s" x="21" y="485.5" width="62" height="85"/><rect class="p r3 s" x="371" y="535.5" width="62" height="85"/><rect class="p b1" x="543" y="467" width="48" height="42"/><rect class="p b3" x="568.5" y="514" width="55" height="62"/><rect class="p r2" x="629.5" y="514.5" width="55" height="75"/><rect class="p b1" x="719.5" y="492.5" width="55" height="75"/><rect class="p b1" x="737.5" y="560" width="55" height="40"/><rect class="p b1" x="2.5" y="686" width="55" height="48"/><rect class="p r3" x="389.5" y="698" width="55" height="30"/><rect class="p b3" x="782.5" y="664" width="55" height="52"/><rect class="p r3" x="823.5" y="703" width="55" height="70"/><rect class="p b2" x="743.5" y="747.5" width="55" height="65"/><rect class="p b4" x="503.5" y="784" width="55" height="52"/><rect class="p b4" x="578.5" y="813" width="55" height="30"/><rect class="p b3" x="734.5" y="817" width="55" height="62"/><rect class="p b3" x="644.5" y="851" width="55" height="52"/><rect class="p b3" x="330.5" y="745" width="55" height="52"/><rect class="p r3" x="69.5" y="840.5" width="55" height="75"/><rect class="p b1" x="20.5" y="971" width="55" height="48"/><rect class="p b3" x="465.5" y="931" width="55" height="52"/><rect class="p b3" x="1079.5" y="446" width="55" height="62"/><rect class="p b1 s" x="1097" y="950.5" width="62" height="55"/>
<rect class="p b1" x="80.5" y="1099" width="55" height="48"/><rect class="p b1" x="160.5" y="1136" width="55" height="48"/><rect class="p b1" x="-230.5" y="1213" width="55" height="78"/><rect class="p b2" x="-154.5" y="1376" width="55" height="42"/><rect class="p b1" x="322.5" y="1389" width="55" height="48"/><rect class="p b2" x="502.5" y="1304" width="55" height="72"/><rect class="p b1" x="-407.5" y="1526" width="55" height="48"/><rect class="p r4" x="932.5" y="1365.5" width="55" height="85"/><rect class="p r2" x="1022.5" y="1413" width="55" height="30"/>
<circle class="a" cx="355" cy="45"/><circle class="a" cx="181" cy="216"/><circle class="a" cx="351" cy="367"/><circle class="a" cx="576" cy="305"/><circle class="a" cx="625" cy="354"/><circle class="a" cx="745" cy="327"/><circle class="a" cx="842" cy="341"/><circle class="a" cx="829" cy="420"/><circle class="a" cx="311" cy="537"/><circle class="a" cx="193" cy="567"/><circle class="a" cx="1132" cy="308"/><circle class="a" cx="966" cy="588"/><circle class="a" cx="1023" cy="695"/><circle class="a" cx="936" cy="752"/><circle class="a" cx="188" cy="742"/><circle class="a" cx="924" cy="830"/><circle class="a" cx="858" cy="858"/><circle class="a" cx="946" cy="892"/><circle class="a" cx="735" cy="1028"/><circle class="a" cx="1262" cy="967"/><circle class="a" cx="187" cy="962"/><circle class="a" cx="291" cy="1052"/><circle class="a" cx="572" cy="738"/><circle class="a" cx="-53" cy="392"/><circle class="a" cx="-82" cy="585"/>
<circle class="a" cx="-144" cy="725"/><circle class="a" cx="-79" cy="868"/><circle class="a" cx="-57" cy="1085"/><circle class="a" cx="-310" cy="1102"/><circle class="a" cx="-364" cy="1175"/><circle class="a" cx="-366" cy="1268"/><circle class="a" cx="-306" cy="1345"/><circle class="a" cx="-41" cy="1221"/><circle class="a" cx="51" cy="1236"/><circle class="a" cx="56" cy="1292"/><circle class="a" cx="141" cy="1268"/><circle class="a" cx="216" cy="1214"/><circle class="a" cx="385" cy="1203"/><circle class="a" cx="660" cy="1341"/><circle class="a" cx="610" cy="1436"/><circle class="a" cx="516" cy="1467"/><circle class="a" cx="193" cy="1476"/><circle class="a" cx="227" cy="1536"/><circle class="a" cx="291" cy="1563"/><circle class="a" cx="370" cy="1556"/><circle class="a" cx="-260" cy="1516"/><circle class="a" cx="894" cy="1488"/><circle class="a" cx="977" cy="1528"/><circle class="a" cx="-540" cy="1500"/>
<text class="n" x="378" y="682">Lanza, M.</text><text class="t" x="665" y="215">Selected</text><text class="t" x="52" y="458">Selected</text><text class="t" x="402" y="508">Selected</text><text class="t" x="1128" y="922">Selected</text>
</g>
</g>
<g class="S" transform="scale(1.7105)">
<g id="s-top">
<rect class="p r4" x="386" y="66" width="10" height="14"/><circle class="a" cx="408" cy="48"/>
<rect class="p r4 s" x="382" y="140" width="12" height="16"/><circle class="a" cx="384" cy="170"/><circle class="a" cx="402" cy="140"/><circle class="a" cx="372" cy="150"/><text class="t" x="388" y="136">Selected</text>
<rect class="p r3" x="325" y="99" width="10" height="14"/><rect class="p r2" x="300" y="136" width="10" height="6"/><circle class="a" cx="348" cy="83"/><circle class="a" cx="346" cy="124"/><circle class="a" cx="316" cy="114"/><circle class="a" cx="298" cy="110"/><circle class="a" cx="300" cy="160"/><circle class="a" cx="323" cy="135"/>
<rect class="p r4" x="250" y="140" width="10" height="14"/><circle class="a" cx="232" cy="157"/><circle class="a" cx="272" cy="158"/>
<rect class="p r4" x="228" y="217" width="10" height="14"/><circle class="a" cx="206" cy="208"/>
<rect class="p r2" x="287" y="206" width="10" height="14"/><circle class="a" cx="270" cy="190"/><circle class="a" cx="268" cy="222"/><circle class="a" cx="312" cy="222"/>
<rect class="p r4" x="338" y="224" width="10" height="14"/><circle class="a" cx="322" cy="216"/><circle class="a" cx="330" cy="197"/><circle class="a" cx="357" cy="199"/><circle class="a" cx="371" cy="222"/><circle class="a" cx="368" cy="241"/><circle class="a" cx="356" cy="258"/><circle class="a" cx="336" cy="254"/><circle class="a" cx="322" cy="245"/>
<rect class="p r3" x="696" y="47" width="10" height="6"/><circle class="a" cx="689" cy="30"/><circle class="a" cx="718" cy="52"/>
<rect class="p r1" x="734" y="31" width="10" height="6"/><circle class="a" cx="722" cy="17"/><circle class="a" cx="756" cy="26"/>
<rect class="p r3" x="759" y="61" width="10" height="6"/><circle class="a" cx="750" cy="55"/><circle class="a" cx="777" cy="83"/>
<rect class="p r3" x="742" y="95" width="10" height="6"/><circle class="a" cx="726" cy="87"/><circle class="a" cx="768" cy="96"/>
<rect class="p r3" x="825" y="69" width="10" height="14"/><circle class="a" cx="822" cy="55"/><circle class="a" cx="853" cy="70"/><circle class="a" cx="815" cy="99"/><circle class="a" cx="835" cy="97"/>
<rect class="p r2" x="923" y="76" width="10" height="6"/><circle class="a" cx="905" cy="62"/><circle class="a" cx="946" cy="93"/>
<rect class="p r3" x="971" y="131" width="10" height="6"/><circle class="a" cx="987" cy="110"/>
<rect class="p b4" x="893" y="121.5" width="10" height="9"/><rect class="p b3" x="937" y="141" width="10" height="6"/><circle class="a" cx="871" cy="123"/><circle class="a" cx="922" cy="132"/><circle class="a" cx="960" cy="148"/>
<rect class="p r1" x="771" y="132" width="10" height="14"/><circle class="a" cx="759" cy="152"/><circle class="a" cx="794" cy="151"/>
<rect class="p r1" x="812" y="164" width="10" height="6"/><circle class="a" cx="799" cy="154"/><circle class="a" cx="836" cy="152"/>
<rect class="p r4" x="880" y="195" width="10" height="14"/><circle class="a" cx="862" cy="184"/><circle class="a" cx="870" cy="212"/><circle class="a" cx="888" cy="172"/><circle class="a" cx="912" cy="192"/><circle class="a" cx="906" cy="216"/><circle class="a" cx="878" cy="226"/>
<rect class="p r2" x="807" y="211" width="10" height="14"/><circle class="a" cx="787" cy="211"/><circle class="a" cx="803" cy="240"/>
<rect class="p r4" x="681" y="149" width="10" height="15"/><rect class="p b4" x="678" y="159" width="10" height="6"/><rect class="p b4" x="659" y="173" width="10" height="14"/><rect class="p b1" x="715" y="183" width="10" height="5"/><circle class="a" cx="657" cy="144"/><circle class="a" cx="666" cy="149"/><circle class="a" cx="652" cy="156"/><circle class="a" cx="689" cy="183"/><circle class="a" cx="708" cy="148"/>
<rect class="p r3" x="613" y="192" width="10" height="6"/><rect class="p r4 s" x="646" y="233" width="12" height="16"/><circle class="a" cx="606" cy="169"/><circle class="a" cx="590" cy="188"/><circle class="a" cx="632" cy="216"/><circle class="a" cx="664" cy="252"/><text class="t" x="652" y="229">Selected</text>
<rect class="p r3" x="698" y="208" width="10" height="14"/><circle class="a" cx="690" cy="200"/><circle class="a" cx="718" cy="232"/>
<rect class="p b4" x="611" y="231.5" width="10" height="9"/>
<rect class="p r2" x="641" y="291.5" width="10" height="9"/><circle class="a" cx="625" cy="290"/><circle class="a" cx="630" cy="270"/><circle class="a" cx="668" cy="300"/>
</g>
<g id="s-left">
<rect class="p r4 s" x="165" y="246" width="12" height="16"/><circle class="a" cx="150" cy="250"/><circle class="a" cx="160" cy="270"/><circle class="a" cx="183" cy="270"/><circle class="a" cx="192" cy="251"/><text class="t" x="171" y="242">Selected</text>
<rect class="p r2 s" x="101" y="316" width="12" height="16"/><circle class="a" cx="80" cy="320"/><circle class="a" cx="92" cy="344"/><circle class="a" cx="114" cy="345"/><text class="t" x="107" y="312">Selected</text>
<rect class="p r4" x="180" y="330" width="10" height="14"/><circle class="a" cx="161" cy="346"/><circle class="a" cx="178" cy="314"/>
<rect class="p b3" x="224" y="322" width="10" height="14"/><circle class="a" cx="217" cy="298"/><circle class="a" cx="240" cy="299"/>
<rect class="p r2" x="302" y="292" width="10" height="6"/><rect class="p b4" x="300" y="307" width="10" height="6"/><rect class="p b4" x="343" y="302.5" width="10" height="9"/><rect class="p b4" x="345" y="315.5" width="10" height="9"/><rect class="p r2" x="309" y="343" width="10" height="14"/><rect class="p r4" x="335" y="340" width="10" height="14"/><circle class="a" cx="286" cy="270"/><circle class="a" cx="283" cy="298"/><circle class="a" cx="320" cy="288"/><circle class="a" cx="336" cy="294"/><circle class="a" cx="322" cy="322"/><circle class="a" cx="356" cy="333"/>
<rect class="p r4" x="411" y="293" width="10" height="14"/><circle class="a" cx="413" cy="270"/><circle class="a" cx="425" cy="323"/>
<rect class="p b1" x="458" y="331.5" width="10" height="9"/>
<rect class="p r4 s" x="369" y="370" width="12" height="16"/><circle class="a" cx="357" cy="372"/><circle class="a" cx="393" cy="385"/><text class="t" x="375" y="366">Selected</text>
<rect class="p r1" x="273" y="378" width="10" height="6"/><circle class="a" cx="256" cy="378"/><circle class="a" cx="296" cy="383"/>
<rect class="p b4" x="205" y="385" width="10" height="6"/><circle class="a" cx="207" cy="362"/><circle class="a" cx="219" cy="410"/>
<rect class="p r4 s" x="102" y="414" width="12" height="16"/><circle class="a" cx="88" cy="424"/><circle class="a" cx="97" cy="441"/><circle class="a" cx="128" cy="416"/><circle class="a" cx="116" cy="436"/><text class="t" x="108" y="410">Selected</text>
<rect class="p b3 s" x="417" y="416" width="12" height="16"/><circle class="a" cx="403" cy="428"/><circle class="a" cx="440" cy="420"/><text class="t" x="423" y="412">Selected</text>
<rect class="p r3" x="284" y="418" width="10" height="14"/><circle class="a" cx="262" cy="428"/><circle class="a" cx="303" cy="442"/>
<rect class="p b2 s" x="333" y="434" width="12" height="10"/><circle class="a" cx="318" cy="434"/><circle class="a" cx="352" cy="458"/><text class="t" x="339" y="430">Selected</text>
<rect class="p b3" x="198" y="446.5" width="10" height="9"/><circle class="a" cx="180" cy="432"/><circle class="a" cx="222" cy="462"/>
<rect class="p r2" x="303" y="458" width="10" height="14"/><circle class="a" cx="284" cy="472"/>
<rect class="p b2" x="35" y="450" width="10" height="14"/><circle class="a" cx="62" cy="458"/>
<rect class="p r3" x="148" y="489" width="10" height="6"/><circle class="a" cx="125" cy="488"/><circle class="a" cx="161" cy="470"/><circle class="a" cx="158" cy="518"/>
<rect class="p r3" x="208" y="506" width="10" height="6"/><circle class="a" cx="195" cy="490"/><circle class="a" cx="234" cy="499"/>
<rect class="p r2" x="450" y="472" width="10" height="6"/><rect class="p r2" x="443" y="487" width="10" height="6"/><rect class="p r1" x="438" y="507" width="10" height="14"/><circle class="a" cx="426" cy="465"/><circle class="a" cx="466" cy="465"/><circle class="a" cx="484" cy="494"/><circle class="a" cx="431" cy="492"/><circle class="a" cx="459" cy="522"/>
<rect class="p r1 s" x="31" y="519" width="12" height="16"/><circle class="a" cx="16" cy="530"/><circle class="a" cx="56" cy="524"/><text class="t" x="37" y="515">Selected</text>
<rect class="p r4" x="110" y="527" width="10" height="14"/><circle class="a" cx="93" cy="512"/><circle class="a" cx="126" cy="520"/>
<rect class="p b1 s" x="180" y="558" width="12" height="10"/><circle class="a" cx="166" cy="565"/><circle class="a" cx="188" cy="589"/><circle class="a" cx="206" cy="560"/><text class="t" x="186" y="554">Selected</text>
<rect class="p r2 s" x="136" y="574" width="12" height="16"/><circle class="a" cx="120" cy="590"/><circle class="a" cx="148" cy="600"/><text class="t" x="142" y="570">Selected</text>
<rect class="p r1 s" x="23" y="589" width="12" height="16"/><circle class="a" cx="48" cy="598"/><circle class="a" cx="40" cy="612"/><text class="t" x="29" y="585">Selected</text>
<rect class="p b3 s" x="390" y="551" width="12" height="10"/><circle class="a" cx="378" cy="548"/><circle class="a" cx="407" cy="572"/><text class="t" x="396" y="547">Selected</text>
<rect class="p b3" x="43" y="652.5" width="10" height="9"/><circle class="a" cx="22" cy="645"/><circle class="a" cx="35" cy="667"/><circle class="a" cx="58" cy="640"/><circle class="a" cx="62" cy="670"/>
<rect class="p b2" x="92" y="644" width="10" height="14"/><circle class="a" cx="95" cy="625"/><circle class="a" cx="118" cy="648"/>
<rect class="p r1 s" x="159" y="644" width="12" height="16"/><circle class="a" cx="148" cy="660"/><circle class="a" cx="182" cy="652"/><text class="t" x="165" y="640">Selected</text>
<rect class="p r3" x="38" y="720" width="10" height="14"/><circle class="a" cx="18" cy="714"/><circle class="a" cx="63" cy="726"/>
<rect class="p r2" x="120" y="702" width="10" height="14"/><circle class="a" cx="100" cy="716"/><circle class="a" cx="148" cy="716"/>
<rect class="p b3" x="182" y="747.5" width="10" height="9"/><circle class="a" cx="176" cy="725"/><circle class="a" cx="207" cy="764"/>
<rect class="p b4 s" x="22" y="771" width="12" height="10"/><circle class="a" cx="17" cy="790"/><circle class="a" cx="40" cy="792"/><circle class="a" cx="48" cy="770"/><text class="t" x="28" y="767">Selected</text>
<rect class="p b1" x="120" y="785" width="10" height="14"/><circle class="a" cx="103" cy="774"/><circle class="a" cx="118" cy="760"/><circle class="a" cx="140" cy="777"/><circle class="a" cx="147" cy="797"/><circle class="a" cx="133" cy="814"/><circle class="a" cx="110" cy="810"/>
<rect class="p b4" x="199" y="794" width="10" height="6"/><circle class="a" cx="190" cy="801"/><circle class="a" cx="219" cy="800"/>
<rect class="p b2" x="305" y="805" width="10" height="14"/><circle class="a" cx="284" cy="806"/><circle class="a" cx="311" cy="784"/><circle class="a" cx="334" cy="798"/><circle class="a" cx="335" cy="828"/><circle class="a" cx="300" cy="836"/>
<rect class="p b4 s" x="388" y="785" width="12" height="10"/><circle class="a" cx="378" cy="797"/><circle class="a" cx="410" cy="801"/><text class="t" x="394" y="781">Selected</text>
<rect class="p r2" x="352" y="745" width="10" height="14"/><circle class="a" cx="377" cy="742"/><circle class="a" cx="351" cy="775"/>
<rect class="p r1 s" x="413" y="712" width="12" height="16"/><circle class="a" cx="400" cy="727"/><circle class="a" cx="432" cy="736"/><text class="t" x="419" y="708">Selected</text>
<rect class="p b1" x="456" y="742" width="10" height="14"/><circle class="a" cx="445" cy="766"/><circle class="a" cx="476" cy="736"/><circle class="a" cx="478" cy="771"/>
<rect class="p b2" x="527" y="772.5" width="10" height="9"/><circle class="a" cx="506" cy="777"/><circle class="a" cx="540" cy="755"/><circle class="a" cx="553" cy="778"/>
<rect class="p b1" x="538" y="830" width="10" height="16"/><circle class="a" cx="540" cy="808"/>
<rect class="p r1" x="460" y="835" width="10" height="6"/><circle class="a" cx="440" cy="826"/><circle class="a" cx="486" cy="826"/><circle class="a" cx="470" cy="856"/>
</g>
<g id="s-bottomleft">
<rect class="p b1" x="70" y="853" width="10" height="14"/><circle class="a" cx="48" cy="856"/><circle class="a" cx="68" cy="830"/><circle class="a" cx="88" cy="880"/>
<rect class="p b1" x="124" y="863.5" width="10" height="9"/><circle class="a" cx="102" cy="868"/><circle class="a" cx="148" cy="852"/><circle class="a" cx="127" cy="900"/>
<rect class="p b4" x="217" y="848" width="10" height="14"/><rect class="p b4" x="261" y="849" width="10" height="6"/><circle class="a" cx="233" cy="836"/><circle class="a" cx="240" cy="870"/><circle class="a" cx="255" cy="880"/><circle class="a" cx="280" cy="838"/>
<rect class="p r3" x="187" y="892" width="10" height="14"/><circle class="a" cx="163" cy="912"/><circle class="a" cx="200" cy="880"/><circle class="a" cx="206" cy="918"/>
<rect class="p b1" x="120" y="922.5" width="10" height="5"/><circle class="a" cx="96" cy="932"/>
<rect class="p b3" x="354" y="857.5" width="10" height="9"/><circle class="a" cx="337" cy="871"/><circle class="a" cx="377" cy="852"/>
<rect class="p b1 s" x="315" y="938" width="12" height="10"/><circle class="a" cx="302" cy="955"/><circle class="a" cx="337" cy="956"/><text class="t" x="321" y="934">Selected</text>
<rect class="p b2" x="248" y="958.5" width="10" height="9"/><circle class="a" cx="233" cy="943"/><circle class="a" cx="262" cy="940"/><circle class="a" cx="278" cy="965"/><circle class="a" cx="242" cy="985"/>
<rect class="p b1" x="143" y="978.5" width="10" height="9"/><circle class="a" cx="121" cy="956"/><circle class="a" cx="150" cy="960"/><circle class="a" cx="168" cy="975"/><circle class="a" cx="165" cy="1006"/><circle class="a" cx="135" cy="1010"/><circle class="a" cx="128" cy="993"/>
<rect class="p b1 s" x="183" y="1026" width="12" height="10"/><circle class="a" cx="175" cy="1052"/><text class="t" x="189" y="1022">Selected</text>
<rect class="p b2" x="337" y="1025.5" width="10" height="9"/><circle class="a" cx="325" cy="1005"/><circle class="a" cx="340" cy="1052"/>
<rect class="p b1" x="253" y="1067.5" width="10" height="9"/><circle class="a" cx="230" cy="1050"/><circle class="a" cx="246" cy="1040"/><circle class="a" cx="270" cy="1045"/><circle class="a" cx="285" cy="1066"/><circle class="a" cx="275" cy="1090"/><circle class="a" cx="250" cy="1100"/><circle class="a" cx="228" cy="1090"/>
<rect class="p b1" x="371" y="1096.5" width="10" height="9"/><circle class="a" cx="350" cy="1093"/><circle class="a" cx="396" cy="1098"/>
<rect class="p b2" x="372" y="1169" width="10" height="14"/><circle class="a" cx="356" cy="1170"/><circle class="a" cx="372" cy="1150"/><circle class="a" cx="396" cy="1162"/>
<rect class="p b1 s" x="314" y="1142" width="12" height="10"/><circle class="a" cx="300" cy="1150"/><circle class="a" cx="330" cy="1166"/><text class="t" x="320" y="1138">Selected</text>
<rect class="p b1 s" x="414" y="1165" width="12" height="10"/><circle class="a" cx="405" cy="1186"/><circle class="a" cx="440" cy="1160"/><circle class="a" cx="425" cy="1196"/><text class="t" x="420" y="1161">Selected</text>
</g>
<g id="s-right">
<rect class="p b4" x="1115" y="233" width="10" height="14"/><circle class="a" cx="1098" cy="248"/>
<rect class="p r3 s" x="1148" y="287" width="12" height="16"/><circle class="a" cx="1165" cy="305"/><text class="t" x="1154" y="283">Selected</text>
<rect class="p r1" x="1082" y="313" width="10" height="6"/><circle class="a" cx="1085" cy="292"/><circle class="a" cx="1106" cy="302"/><circle class="a" cx="1100" cy="334"/>
<rect class="p r3" x="1026" y="276" width="10" height="14"/><circle class="a" cx="1020" cy="252"/><circle class="a" cx="1050" cy="264"/>
<rect class="p r3" x="966" y="283" width="10" height="14"/><circle class="a" cx="955" cy="266"/><circle class="a" cx="986" cy="278"/><circle class="a" cx="968" cy="302"/>
<rect class="p r3" x="1054" y="215" width="10" height="14"/><circle class="a" cx="1074" cy="210"/><circle class="a" cx="1049" cy="246"/>
<rect class="p r3 s" x="1007" y="180" width="12" height="16"/><rect class="p r3" x="982" y="193" width="10" height="6"/><rect class="p r3" x="983" y="223" width="10" height="6"/><circle class="a" cx="1038" cy="182"/><circle class="a" cx="965" cy="180"/><circle class="a" cx="962" cy="212"/><circle class="a" cx="1010" cy="210"/><text class="t" x="1013" y="176">Selected</text>
<rect class="p r1" x="885" y="269" width="10" height="6"/><circle class="a" cx="880" cy="258"/><circle class="a" cx="900" cy="295"/>
<rect class="p r1" x="840" y="286" width="10" height="6"/><circle class="a" cx="823" cy="290"/><circle class="a" cx="855" cy="266"/>
<rect class="p r2" x="758" y="277" width="10" height="14"/><circle class="a" cx="740" cy="266"/><circle class="a" cx="785" cy="270"/><circle class="a" cx="745" cy="292"/>
<rect class="p r1" x="743" y="397" width="10" height="14"/><rect class="p r3" x="721" y="350" width="10" height="6"/><rect class="p r2" x="763" y="352" width="10" height="6"/><circle class="a" cx="707" cy="326"/><circle class="a" cx="738" cy="330"/><circle class="a" cx="760" cy="340"/><circle class="a" cx="719" cy="405"/><circle class="a" cx="741" cy="375"/><circle class="a" cx="740" cy="427"/><circle class="a" cx="770" cy="400"/>
<rect class="p r1" x="808" y="381" width="10" height="6"/><rect class="p r2" x="812" y="433" width="10" height="6"/><circle class="a" cx="798" cy="400"/><circle class="a" cx="830" cy="395"/><circle class="a" cx="818" cy="410"/><circle class="a" cx="800" cy="425"/><circle class="a" cx="832" cy="440"/>
<rect class="p r3" x="853" y="355" width="10" height="14"/><rect class="p r3" x="861" y="407" width="10" height="14"/><circle class="a" cx="838" cy="345"/><circle class="a" cx="855" cy="395"/><circle class="a" cx="874" cy="395"/><circle class="a" cx="880" cy="425"/>
<rect class="p r3" x="902" y="376" width="10" height="14"/><rect class="p r3" x="916" y="417" width="10" height="14"/><circle class="a" cx="903" cy="352"/><circle class="a" cx="897" cy="430"/><circle class="a" cx="935" cy="437"/><circle class="a" cx="912" cy="405"/>
<rect class="p r1 s" x="948" y="396" width="12" height="16"/><circle class="a" cx="935" cy="393"/><circle class="a" cx="975" cy="405"/><text class="t" x="954" y="392">Selected</text>
<rect class="p r3" x="1019" y="341" width="10" height="14"/><rect class="p r1" x="1021" y="386" width="10" height="6"/><circle class="a" cx="1020" cy="320"/><circle class="a" cx="1020" cy="368"/><circle class="a" cx="1040" cy="392"/>
<rect class="p r1 s" x="1067" y="377" width="12" height="16"/><circle class="a" cx="1058" cy="380"/><circle class="a" cx="1085" cy="370"/><text class="t" x="1073" y="373">Selected</text>
<rect class="p r3" x="1134" y="353" width="10" height="6"/><circle class="a" cx="1130" cy="340"/><circle class="a" cx="1160" cy="362"/>
<rect class="p b3" x="1211" y="374" width="10" height="6"/><circle class="a" cx="1198" cy="398"/><circle class="a" cx="1225" cy="360"/>
<rect class="p r3" x="1135" y="414" width="10" height="14"/><circle class="a" cx="1125" cy="411"/><circle class="a" cx="1155" cy="400"/>
<rect class="p r3" x="1010" y="422" width="10" height="6"/><circle class="a" cx="990" cy="430"/><circle class="a" cx="1040" cy="425"/>
<rect class="p b3" x="892" y="459.5" width="10" height="9"/><circle class="a" cx="904" cy="440"/>
<rect class="p r4" x="1221" y="424" width="10" height="14"/><circle class="a" cx="1230" cy="455"/>
<rect class="p r3 s" x="1087" y="464" width="12" height="16"/><circle class="a" cx="1096" cy="492"/><text class="t" x="1093" y="460">Selected</text>
<rect class="p r1" x="1192" y="481" width="10" height="14"/><circle class="a" cx="1175" cy="485"/><circle class="a" cx="1220" cy="488"/>
<rect class="p b1" x="1245" y="504" width="10" height="6"/><circle class="a" cx="1228" cy="513"/>
<rect class="p r4" x="1130" y="547" width="10" height="6"/><circle class="a" cx="1130" cy="525"/>
<rect class="p b1" x="1174" y="556" width="10" height="6"/><circle class="a" cx="1188" cy="535"/>
<rect class="p r3" x="1246" y="574" width="10" height="6"/><circle class="a" cx="1240" cy="560"/><circle class="a" cx="1265" cy="565"/>
<rect class="p r3 s" x="1153" y="599" width="12" height="16"/><circle class="a" cx="1140" cy="600"/><circle class="a" cx="1178" cy="600"/><text class="t" x="1159" y="595">Selected</text>
<rect class="p b1" x="1256" y="637" width="10" height="6"/><circle class="a" cx="1268" cy="615"/>
<rect class="p b1" x="1079" y="678.5" width="10" height="9"/><circle class="a" cx="1070" cy="660"/><circle class="a" cx="1098" cy="660"/>
<rect class="p b3" x="1131" y="685" width="10" height="6"/><circle class="a" cx="1115" cy="688"/><circle class="a" cx="1160" cy="690"/>
<rect class="p r1 s" x="1223" y="676" width="12" height="16"/><circle class="a" cx="1230" cy="702"/><text class="t" x="1229" y="672">Selected</text>
<rect class="p r1" x="1233" y="736" width="10" height="6"/>
<rect class="p b3" x="1057" y="773.5" width="10" height="9"/><circle class="a" cx="1040" cy="768"/><circle class="a" cx="1075" cy="795"/>
<rect class="p b2" x="1145" y="752" width="10" height="6"/><circle class="a" cx="1130" cy="745"/><circle class="a" cx="1170" cy="740"/>
<rect class="p b3" x="1192" y="805.5" width="10" height="9"/><circle class="a" cx="1210" cy="790"/>
<rect class="p r1" x="1132" y="809.5" width="10" height="9"/><circle class="a" cx="1120" cy="800"/>
<rect class="p b1" x="1179" y="835" width="10" height="14"/><circle class="a" cx="1190" cy="860"/>
<rect class="p b4" x="1225" y="856" width="10" height="35"/>
<rect class="p b1" x="1086" y="872" width="10" height="6"/><circle class="a" cx="1085" cy="850"/>
<rect class="p b2" x="1020" y="892" width="10" height="6"/><circle class="a" cx="1000" cy="890"/><circle class="a" cx="1050" cy="890"/>
<rect class="p b1" x="982" y="808" width="10" height="14"/><rect class="p r1" x="1025" y="805" width="10" height="6"/><circle class="a" cx="965" cy="795"/><circle class="a" cx="1010" cy="800"/><circle class="a" cx="1050" cy="815"/><circle class="a" cx="990" cy="840"/>
<rect class="p b3" x="937" y="858.5" width="10" height="9"/><circle class="a" cx="920" cy="855"/><circle class="a" cx="960" cy="850"/>
<rect class="p r3" x="913" y="929" width="10" height="6"/><circle class="a" cx="900" cy="940"/><circle class="a" cx="935" cy="910"/>
<rect class="p r3" x="857" y="917" width="10" height="6"/><circle class="a" cx="850" cy="935"/><circle class="a" cx="878" cy="910"/>
<rect class="p b1 s" x="773" y="930" width="12" height="10"/><circle class="a" cx="760" cy="945"/><circle class="a" cx="795" cy="940"/><text class="t" x="779" y="926">Selected</text>
<rect class="p b3" x="980" y="961.5" width="10" height="9"/><rect class="p b4" x="1015" y="953" width="10" height="14"/><rect class="p b4" x="1028" y="978" width="10" height="14"/><rect class="p b3" x="1017" y="999.5" width="10" height="9"/><rect class="p b4" x="984" y="998.5" width="10" height="9"/><circle class="a" cx="990" cy="945"/><circle class="a" cx="1040" cy="945"/><circle class="a" cx="1010" cy="985"/><circle class="a" cx="990" cy="1030"/><circle class="a" cx="1025" cy="1025"/>
<rect class="p b4" x="906" y="978.5" width="10" height="9"/><circle class="a" cx="905" cy="1000"/>
<rect class="p r1" x="918" y="1005" width="10" height="6"/><circle class="a" cx="940" cy="1020"/>
<rect class="p b4" x="1114" y="952.5" width="10" height="9"/><circle class="a" cx="1100" cy="960"/><circle class="a" cx="1135" cy="945"/>
<rect class="p b1 s" x="1187" y="919" width="12" height="16"/><circle class="a" cx="1180" cy="945"/><text class="t" x="1193" y="915">Selected</text>
<rect class="p r1" x="1206" y="910" width="10" height="6"/><circle class="a" cx="1200" cy="890"/>
<rect class="p b1" x="1133" y="1013" width="10" height="14"/><circle class="a" cx="1115" cy="1010"/>
<rect class="p b2" x="1060" y="1053" width="10" height="14"/><circle class="a" cx="1040" cy="1060"/><circle class="a" cx="1080" cy="1040"/>
<rect class="p b2" x="1023" y="1111" width="10" height="14"/><circle class="a" cx="1015" cy="1095"/><circle class="a" cx="1040" cy="1135"/>
<rect class="p b3" x="974" y="1085.5" width="10" height="9"/><circle class="a" cx="960" cy="1100"/><circle class="a" cx="990" cy="1070"/>
<rect class="p b1" x="921" y="1045" width="10" height="14"/><circle class="a" cx="925" cy="1075"/>
<rect class="p b1" x="952" y="1142" width="10" height="6"/><rect class="p b1" x="931" y="1169" width="10" height="6"/><rect class="p b1" x="893" y="1163" width="10" height="6"/><circle class="a" cx="935" cy="1130"/><circle class="a" cx="960" cy="1165"/><circle class="a" cx="917" cy="1160"/>
<rect class="p b3" x="860" y="999" width="10" height="14"/><rect class="p b2" x="833" y="1013.5" width="10" height="9"/><circle class="a" cx="825" cy="1030"/><circle class="a" cx="850" cy="985"/><circle class="a" cx="880" cy="990"/>
<rect class="p b2" x="857" y="1095" width="10" height="14"/><rect class="p b4" x="809" y="1082" width="10" height="6"/><circle class="a" cx="845" cy="1090"/><circle class="a" cx="880" cy="1078"/><circle class="a" cx="850" cy="1120"/><circle class="a" cx="800" cy="1105"/>
<rect class="p b1 s" x="822" y="1203" width="12" height="10"/><circle class="a" cx="808" cy="1200"/><circle class="a" cx="832" cy="1226"/><circle class="a" cx="850" cy="1196"/><text class="t" x="828" y="1199">Selected</text>
<rect class="p r1 s" x="761" y="1151" width="12" height="16"/><circle class="a" cx="752" cy="1172"/><circle class="a" cx="782" cy="1158"/><text class="t" x="767" y="1147">Selected</text>
<rect class="p b1 s" x="728" y="1186" width="12" height="10"/><circle class="a" cx="714" cy="1190"/><circle class="a" cx="740" cy="1215"/><circle class="a" cx="752" cy="1180"/><text class="t" x="734" y="1182">Selected</text>
<rect class="p b1" x="767" y="1244" width="10" height="6"/><circle class="a" cx="797" cy="1244"/>
<rect class="p b1 s" x="648" y="1194" width="12" height="10"/><circle class="a" cx="633" cy="1192"/><circle class="a" cx="653" cy="1220"/><circle class="a" cx="672" cy="1196"/><text class="t" x="654" y="1190">Selected</text>
<rect class="p b3" x="657" y="1256" width="10" height="14"/><rect class="p b3" x="709" y="1251" width="10" height="6"/><circle class="a" cx="690" cy="1256"/><circle class="a" cx="737" cy="1246"/>
<rect class="p b2" x="691" y="960" width="10" height="14"/><circle class="a" cx="676" cy="945"/><circle class="a" cx="717" cy="946"/>
<rect class="p r1" x="648" y="492" width="10" height="6"/><circle class="a" cx="640" cy="510"/>
<rect class="p b1" x="706" y="482" width="10" height="6"/><circle class="a" cx="690" cy="478"/><circle class="a" cx="710" cy="460"/>
<rect class="p r1" x="749" y="524" width="10" height="6"/><circle class="a" cx="735" cy="535"/><circle class="a" cx="770" cy="510"/>
<rect class="p r1" x="794" y="481" width="10" height="6"/><circle class="a" cx="780" cy="480"/>
<rect class="p r3" x="582" y="511" width="10" height="6"/><circle class="a" cx="560" cy="512"/><circle class="a" cx="615" cy="515"/>
<rect class="p b3" x="953" y="619" width="10" height="6"/><rect class="p b4" x="991" y="655.5" width="10" height="9"/><rect class="p b3" x="1008" y="685" width="10" height="6"/><rect class="p b4" x="955" y="673" width="10" height="14"/><rect class="p b3" x="969" y="711.5" width="10" height="9"/><rect class="p b3" x="882" y="670" width="10" height="14"/><circle class="a" cx="931" cy="610"/><circle class="a" cx="942" cy="647"/><circle class="a" cx="963" cy="649"/><circle class="a" cx="985" cy="640"/><circle class="a" cx="945" cy="716"/><circle class="a" cx="962" cy="738"/><circle class="a" cx="990" cy="740"/><circle class="a" cx="1035" cy="680"/><circle class="a" cx="1000" cy="700"/><circle class="a" cx="888" cy="655"/><circle class="a" cx="900" cy="700"/>
</g>
</g>
</g>
<g id="legend">
<rect x="2126" y="1486" width="554" height="698" fill="#fff" stroke="#999" stroke-width="2.5"/>
<ellipse cx="2158" cy="1519" rx="19" ry="16" fill="#bdbdbd"/>
<text class="lg" x="2199" y="1530">an Author</text>
<rect x="2140" y="1586" width="37" height="37" fill="#bdbdbd" stroke="#ddd" stroke-width="1.5"/>
<text class="lg" x="2198" y="1616">a Paper</text>
<rect x="2141" y="1669" width="37" height="37" fill="#bdbdbd" stroke="#111" stroke-width="3"/>
<text class="lg" x="2198" y="1699">a Selected Paper</text>
<line x1="2140" y1="1772" x2="2162" y2="1772" stroke="#9a9af8" stroke-width="5"/>
<text class="lg" x="2183" y="1782" style="fill:#999">Authorship</text>
<text class="lg" x="2138" y="1965" style="fill:#999">Height</text>
<line x1="2233" y1="1912" x2="2233" y2="2005" stroke="#e8342a" stroke-width="2.5"/>
<rect x="2255" y="1912" width="61" height="93" fill="#dedede"/>
<text class="lg" x="2325" y="1965" style="fill:#999">number of pages</text>
<rect x="2140" y="2049" width="103" height="41" fill="url(#gr)"/>
<text class="lg" x="2285" y="2080" style="fill:#999">Publication Year in SOFTVIS</text>
<rect x="2140" y="2133" width="103" height="41" fill="url(#gb)"/>
<text class="lg" x="2284" y="2164" style="fill:#999">Publication Year in VISSOFT</text>
</g>
</svg>
